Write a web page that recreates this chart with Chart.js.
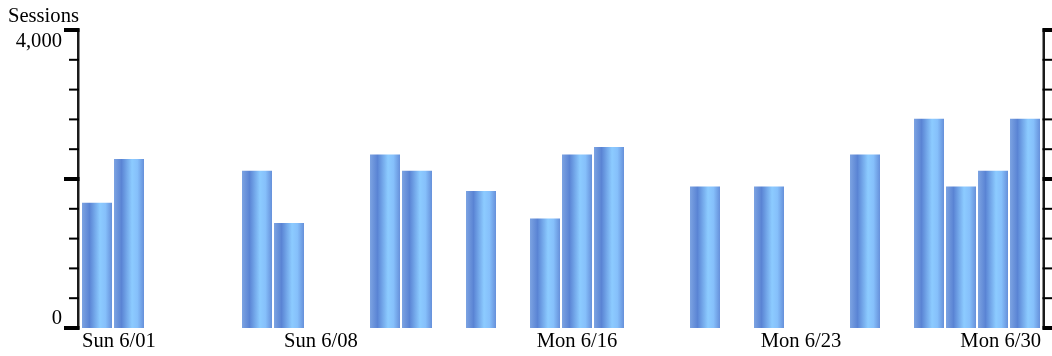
<!DOCTYPE html>
<html>
<head>
<meta charset="utf-8">
<script src="https://cdn.jsdelivr.net/npm/chart.js@4.4.1/dist/chart.umd.min.js"></script>
<style>
  html, body { margin: 0; padding: 0; background: #fff; }
  #wrap { width: 1052px; height: 356px; position: relative; }
</style>
</head>
<body>
<div id="wrap"><canvas id="c" width="1052" height="356"></canvas></div>
<script>
const categories = ["Sun 6/01","Mon 6/02","Tue 6/03","Wed 6/04","Thu 6/05","Fri 6/06","Sat 6/07",
  "Sun 6/08","Mon 6/09","Tue 6/10","Wed 6/11","Thu 6/12","Fri 6/13","Sat 6/14",
  "Sun 6/15","Mon 6/16","Tue 6/17","Wed 6/18","Thu 6/19","Fri 6/20","Sat 6/21",
  "Sun 6/22","Mon 6/23","Tue 6/24","Wed 6/25","Thu 6/26","Fri 6/27","Sat 6/28",
  "Sun 6/29","Mon 6/30"];
const sessions = [1680, 2270, null, null, null, 2110, 1410,
  null, null, 2330, 2110, null, 1840, null,
  1470, 2330, 2430, null, null, 1900, null,
  1900, null, null, 2330, null, 2810, 1900,
  2110, 2810];
const xTickLabels = ["Sun 6/01", "Sun 6/08", "Mon 6/16", "Mon 6/23", "Mon 6/30"];
const yLabelValues = [0, 4000];
const yLabelTexts = ["0", "4,000"];
const yAxisTitle = "Sessions";

const FONT = '20.6px "Liberation Serif", "Times New Roman", serif';

function barGradient(context) {
  const chart = context.chart;
  const area = chart.chartArea;
  const xs = chart.scales.x;
  if (!area || !xs || context.dataIndex === undefined) return '#78a0e0';
  const cx = xs.getPixelForValue(context.dataIndex);
  const w = xs.width / categories.length * 0.9375;
  const g = chart.ctx.createLinearGradient(cx - w / 2, 0, cx + w / 2, 0);
  g.addColorStop(0, '#7ca3e2');
  g.addColorStop(0.25, '#5a84d4');
  g.addColorStop(0.6, '#8ccbff');
  g.addColorStop(0.78, '#86c0fb');
  g.addColorStop(1, '#6690da');
  return g;
}

const axesPlugin = {
  id: 'customAxes',
  afterDraw(chart) {
    const ctx = chart.ctx;
    const ys = chart.scales.y;
    const xs = chart.scales.x;
    const area = chart.chartArea;
    ctx.save();
    const top = ys.getPixelForValue(4000);
    const bot = ys.getPixelForValue(0);
    ctx.fillStyle = '#1a1a1a';
    ctx.fillRect(77, top - 1.5, 2.5, bot - top + 3);
    ctx.fillRect(1042.5, top - 1.5, 2.5, bot - top + 3);
    ctx.fillStyle = '#000';
    const ticks = ys.ticks.map(t => t.value);
    ticks.forEach(v => {
      const y = ys.getPixelForValue(v);
      const major = v % 2000 === 0;
      if (major) {
        ctx.fillRect(64, y - 2, 15.5, 4);
        ctx.fillRect(1042.5, y - 2, 10, 4);
      } else {
        ctx.fillRect(69, y - 1, 10, 2);
        ctx.fillRect(1042.5, y - 1, 10, 2);
      }
    });
    ctx.font = FONT;
    ctx.fillStyle = '#000';
    ctx.textAlign = 'right';
    ctx.textBaseline = 'alphabetic';
    yLabelValues.forEach((v, i) => {
      const y = ys.getPixelForValue(v);
      if (v === 0) {
        ctx.fillText(yLabelTexts[i], 62, y - 4);
      } else {
        ctx.fillText(yLabelTexts[i], 62, y + 17);
      }
    });
    ctx.textAlign = 'left';
    ctx.fillText(yAxisTitle, 8, 22);
    xTickLabels.forEach(lbl => {
      const idx = categories.indexOf(lbl);
      const cx = xs.getPixelForValue(idx);
      const w = ctx.measureText(lbl).width;
      let left = cx - w / 2;
      if (left < area.left + 1) left = area.left + 1;
      if (left + w > area.right) left = area.right - w;
      ctx.fillText(lbl, left, 347);
    });
    ctx.restore();
  }
};

new Chart(document.getElementById('c'), {
  type: 'bar',
  data: {
    labels: categories,
    datasets: [{
      label: yAxisTitle,
      data: sessions,
      backgroundColor: barGradient,
      borderWidth: 0,
      barPercentage: 0.9375,
      categoryPercentage: 1.0
    }]
  },
  options: {
    responsive: false,
    animation: false,
    layout: { padding: { left: 81, right: 11, top: 30, bottom: 28 } },
    plugins: { legend: { display: false }, tooltip: { enabled: false }, title: { display: false } },
    scales: {
      x: { display: false, offset: true, grid: { display: false } },
      y: { display: false, min: 0, max: 4000, ticks: { stepSize: 400 }, grid: { display: false } }
    }
  },
  plugins: [axesPlugin]
});
</script>
</body>
</html>
